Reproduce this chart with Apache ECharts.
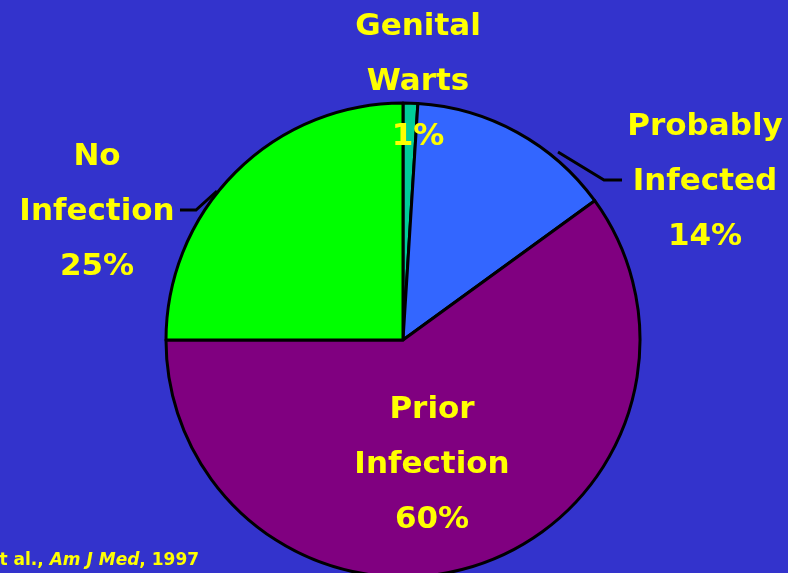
<!DOCTYPE html>
<html>
<head>
<meta charset="utf-8">
<script src="https://cdn.jsdelivr.net/npm/echarts@6/dist/echarts.min.js"></script>
<style>
  html, body { margin: 0; padding: 0; background: #3333cc; }
  #pie { width: 788px; height: 573px; }
</style>
</head>
<body>
<div id="pie"></div>
<script>
// 分类与数值
var categories = ['Genital\nWarts', 'Probably\nInfected', 'Prior\nInfection', 'No\nInfection']
var values = [1, 14, 60, 25]
var sliceColors = ['#00cc99', '#3366ff', '#800080', '#00ff00']

// 每个标签的位置（中心点）和引导线
var labelPos = [
  { x: 418, y: 82, line: null },
  { x: 705, y: 182, line: [[558, 152], [604, 180], [622, 180]] },
  { x: 432, y: 465, line: null },
  { x: 97, y: 212, line: [[217, 191], [196, 210], [180, 210]] }
]

var myChart = echarts.init(document.getElementById('pie'))
myChart.setOption({
  backgroundColor: '#3333cc',
  animation: false,
  series: [{
    type: 'pie',
    center: [403, 340],
    radius: 237,
    startAngle: 90,
    clockwise: true,
    data: categories.map(function (name, i) {
      return {
        name: name,
        value: values[i],
        itemStyle: { color: sliceColors[i] },
        labelLine: { show: !!labelPos[i].line }
      }
    }),
    itemStyle: {
      borderColor: '#000',
      borderWidth: 3
    },
    label: {
      show: true,
      formatter: '{b}\n{d}%',
      color: '#ffff00',
      fontFamily: 'DejaVu Sans',
      fontWeight: 'bold',
      fontSize: 31,
      lineHeight: 55,
      align: 'center',
      overflow: 'none'
    },
    labelLine: {
      show: true,
      lineStyle: { color: '#000', width: 3 }
    },
    labelLayout: function (params) {
      var p = labelPos[params.dataIndex]
      var r = {
        x: p.x,
        y: p.y,
        align: 'center',
        verticalAlign: 'middle',
        width: 220
      }
      if (p.line) r.labelLinePoints = p.line
      return r
    }
  }],
  graphic: [{
    type: 'text',
    left: -12,
    top: 552,
    style: {
      text: 'et al., {i|Am J Med}, 1997',
      fill: '#ffff00',
      font: 'bold 17px "DejaVu Sans"',
      rich: {
        i: { fill: '#ffff00', fontStyle: 'italic', fontWeight: 'bold', fontSize: 17, fontFamily: 'DejaVu Sans' }
      }
    }
  }]
})
</script>
</body>
</html>
